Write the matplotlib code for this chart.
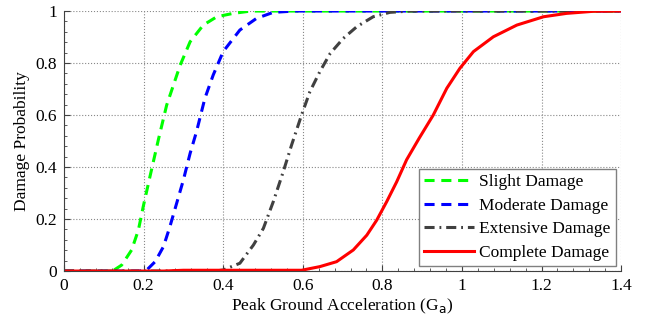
import matplotlib.pyplot as plt
import numpy as np
from matplotlib.ticker import MultipleLocator

plt.rcParams['font.family'] = ['Liberation Serif', 'DejaVu Serif']

# values (PGA in g, probability)
slight_x = [0, 0.10, 0.124, 0.145, 0.170, 0.187, 0.199, 0.216, 0.237, 0.258, 0.275, 0.292, 0.317,
            0.350, 0.384, 0.425, 0.47, 1.4]
slight_y = [0, 0.0, 0.002, 0.023, 0.081, 0.158, 0.247, 0.363, 0.504, 0.638, 0.715, 0.792, 0.882,
            0.946, 0.978, 0.991, 1.0, 1.0]

moderate_x = [0, 0.19, 0.208, 0.229, 0.250, 0.266, 0.283, 0.300, 0.317, 0.333, 0.354, 0.375, 0.400,
              0.442, 0.484, 0.526, 0.58, 1.4]
moderate_y = [0, 0.0, 0.004, 0.036, 0.094, 0.17, 0.26, 0.35, 0.453, 0.536, 0.664, 0.754, 0.844,
              0.927, 0.972, 0.995, 1.0, 1.0]

extensive_x = [0, 0.38, 0.400, 0.442, 0.476, 0.501, 0.526, 0.551, 0.572, 0.597, 0.618, 0.643, 0.669,
               0.702, 0.736, 0.777, 0.819, 0.87, 1.4]
extensive_y = [0, 0.0, 0.004, 0.03, 0.10, 0.164, 0.267, 0.382, 0.485, 0.60, 0.69, 0.767, 0.837,
               0.895, 0.94, 0.978, 0.995, 1.0, 1.0]

complete_x = [0, 0.25, 0.30, 0.597, 0.643, 0.685, 0.727, 0.761, 0.786, 0.811, 0.836, 0.861, 0.893,
              0.928, 0.962, 0.995, 1.029, 1.079, 1.138, 1.205, 1.263, 1.33, 1.4]
complete_y = [0, 0.0, 0.003, 0.003, 0.017, 0.036, 0.081, 0.138, 0.196, 0.267, 0.343, 0.428, 0.512,
              0.60, 0.703, 0.78, 0.844, 0.901, 0.946, 0.978, 0.991, 0.999, 1.0]

fig = plt.figure(figsize=(6.49, 3.2), dpi=100)
ax = fig.add_axes([0.0986, 0.153, 0.8584, 0.8125])

ax.plot(slight_x, slight_y, color='#00ff00', ls=(0, (3.3, 2.2)), lw=2.2, label='Slight Damage')
ax.plot(moderate_x, moderate_y, color='#0000ff', ls=(0, (3.3, 2.2)), lw=2.2, label='Moderate Damage')
ax.plot(extensive_x, extensive_y, color='#404040', ls=(0, (3.3, 1.6, 0.6, 1.6)), lw=2.2,
        label='Extensive Damage')
ax.plot(complete_x, complete_y, color='#ff0000', lw=2.2, label='Complete Damage')

ax.set_xlim(0, 1.4)
ax.set_ylim(0, 1)
ax.set_xticks(np.arange(0, 1.41, 0.2))
ax.set_xticklabels(['0', '0.2', '0.4', '0.6', '0.8', '1', '1.2', '1.4'])
ax.set_yticks(np.arange(0, 1.01, 0.2))
ax.set_yticklabels(['0', '0.2', '0.4', '0.6', '0.8', '1'])
ax.xaxis.set_minor_locator(MultipleLocator(0.04))
ax.yaxis.set_minor_locator(MultipleLocator(0.04))
ax.tick_params(direction='in', labelsize=12.5, length=4, color='#404040', pad=5)
ax.tick_params(which='minor', direction='in', length=2, color='#404040')
ax.grid(True, ls=':', color='#888888', lw=0.8)

for s in ['top', 'right']:
    ax.spines[s].set_visible(False)
for s in ['left', 'bottom']:
    ax.spines[s].set_color('#404040')

ax.set_xlabel('Peak Ground Acceleration (G$_{\\rm a}$)', fontsize=12.5, labelpad=2)
ax.set_ylabel('Damage Probability', fontsize=12.5, labelpad=4)

leg = ax.legend(loc='lower right', fontsize=12.5, fancybox=False, framealpha=1,
                edgecolor='#808080', handlelength=2.9, borderaxespad=0.3,
                labelspacing=0.42, handletextpad=0.3, borderpad=0.3)
leg.get_frame().set_linewidth(1.0)

fig.savefig('out.png', dpi=100)
